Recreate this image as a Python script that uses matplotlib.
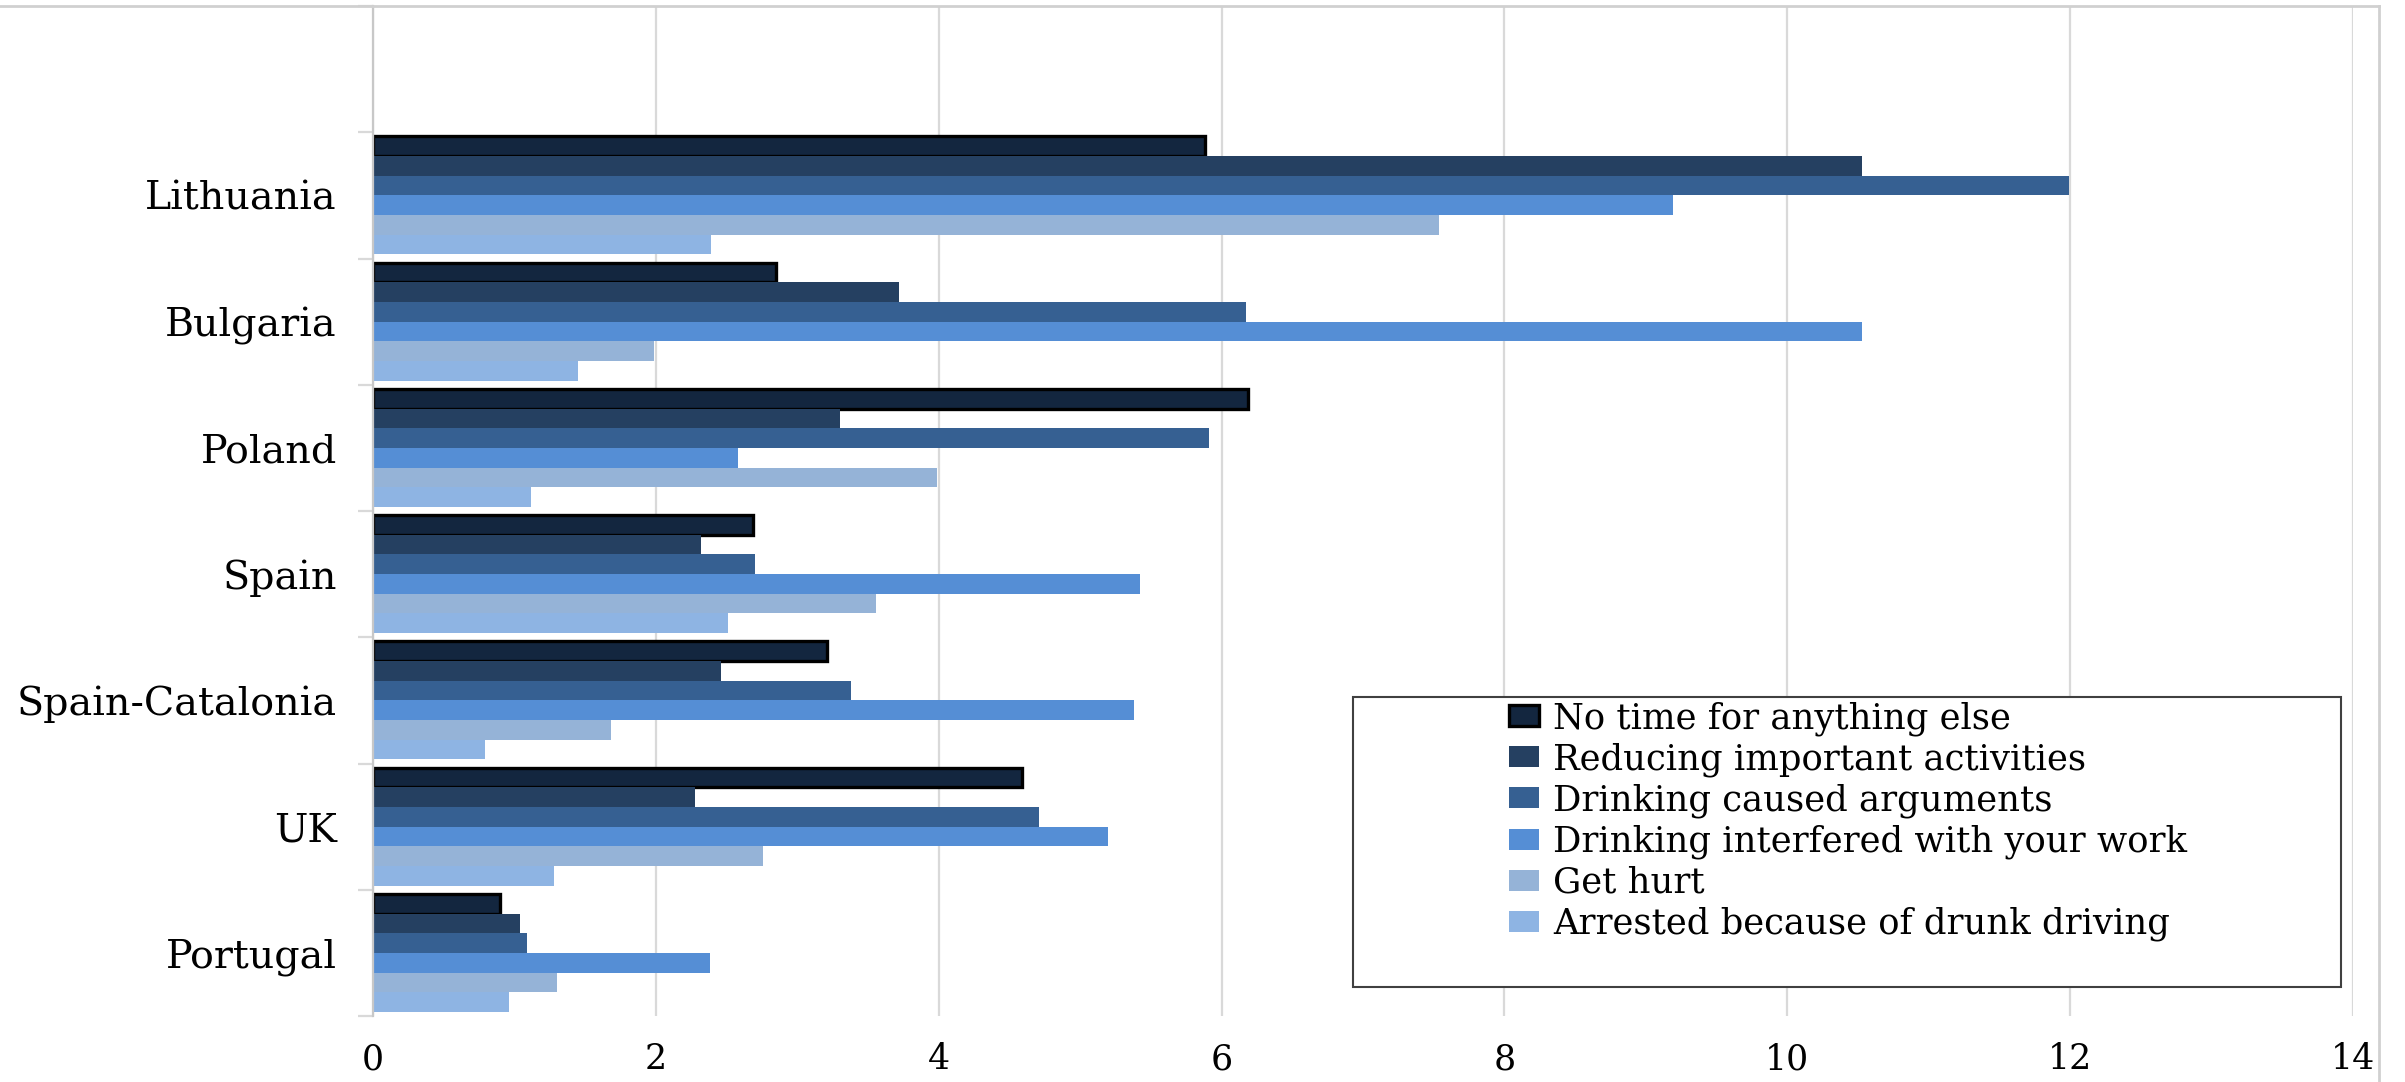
import matplotlib
matplotlib.use("Agg")
import matplotlib.pyplot as plt
from matplotlib.patches import Rectangle
from matplotlib.lines import Line2D
import numpy as np

# ---- data ----
countries = ["Lithuania", "Bulgaria", "Poland", "Spain", "Spain-Catalonia", "UK", "Portugal"]
series_names = [
    "No time for anything else",
    "Reducing important activities",
    "Drinking caused arguments",
    "Drinking interfered with your work",
    "Get hurt",
    "Arrested because of drunk driving",
]
no_time      = [5.88, 2.85, 6.19, 2.69, 3.21, 4.59, 0.90]
reducing     = [10.53, 3.72, 3.30, 2.32, 2.46, 2.28, 1.04]
arguments    = [11.99, 6.17, 5.91, 2.70, 3.38, 4.71, 1.09]
work         = [9.19, 10.53, 2.58, 5.42, 5.38, 5.20, 2.38]
get_hurt     = [7.54, 1.99, 3.99, 3.56, 1.68, 2.76, 1.30]
arrested     = [2.39, 1.45, 1.12, 2.51, 0.79, 1.28, 0.96]
x_ticks = [0, 2, 4, 6, 8, 10, 12, 14]

colors = ["#13263F", "#254061", "#366092", "#558ED5", "#95B3D7", "#8EB4E3"]
all_series = [no_time, reducing, arguments, work, get_hurt, arrested]

W, H = 2405, 1082
fig = plt.figure(figsize=(W / 100, H / 100), dpi=100)
FONT = ["DejaVu Serif"]

ax_left, ax_right, ax_top, ax_bot = 373, 2353, 6, 1016
ax = fig.add_axes([ax_left / W, 1 - ax_bot / H, (ax_right - ax_left) / W, (ax_bot - ax_top) / H])
ax.set_axisbelow(True)

n = len(countries)
pos = np.arange(n)[::-1]  # Lithuania at top (6), Portugal at 0; slot 7 empty
group = 0.935
h = group / len(all_series)
for i, (vals, col) in enumerate(zip(all_series, colors)):
    ys = pos + (2.5 - i) * h
    if i == 0:
        ax.barh(ys, vals, height=h, color=col, edgecolor="black", linewidth=2.4,
                label=series_names[i], zorder=2)
    else:
        ax.barh(ys, vals, height=h, color=col, linewidth=0,
                label=series_names[i], zorder=2)

ax.set_xlim(0, 14)
ax.set_ylim(-0.5, n + 0.5)
ax.set_xticks(x_ticks)
ax.set_xticklabels([str(t) for t in x_ticks], family=FONT, fontsize=25)
ax.tick_params(axis="x", length=0, pad=19)
ax.xaxis.grid(True, color="#D9D9D9", linewidth=1.6)

ax.set_yticks(pos)
ax.set_yticklabels(countries, family=FONT, fontsize=28.5)
ax.set_yticks(np.arange(-0.5, n + 1, 1.0), minor=True)
ax.tick_params(axis="y", which="major", length=0, pad=26)
ax.tick_params(axis="y", which="minor", length=11, width=1.6, color="#D9D9D9")

for s in ["top", "right", "bottom"]:
    ax.spines[s].set_visible(False)
ax.spines["left"].set_color("#C8C8C8")
ax.spines["left"].set_linewidth(1.6)

# outer chart border (top and right edges visible)
fig.add_artist(Line2D([0, 2379 / W], [1 - 6 / H, 1 - 6 / H], transform=fig.transFigure,
                      color="#D0D0D0", linewidth=2))
fig.add_artist(Line2D([2379 / W, 2379 / W], [0, 1 - 6 / H], transform=fig.transFigure,
                      color="#D0D0D0", linewidth=2))

# legend box
lx0, lx1, ly0, ly1 = 1353, 2341, 697, 987
box = Rectangle((lx0 / W, 1 - ly1 / H), (lx1 - lx0) / W, (ly1 - ly0) / H,
                transform=fig.transFigure, facecolor="white", edgecolor="#404040",
                linewidth=1.5, zorder=4, clip_on=False)
ax.add_patch(box)

fs_leg = 25.5
em = fs_leg * 100 / 72
leg = ax.legend(loc="upper left", bbox_to_anchor=(1509 / W, 1 - 701 / H),
                bbox_transform=fig.transFigure, frameon=False, prop={"family": FONT, "size": fs_leg},
                handlelength=30 / em, handleheight=19 / em, handletextpad=14 / em,
                labelspacing=0.19, borderpad=0, borderaxespad=0)
leg.set_zorder(6)

fig.savefig("out.png", dpi=100)
